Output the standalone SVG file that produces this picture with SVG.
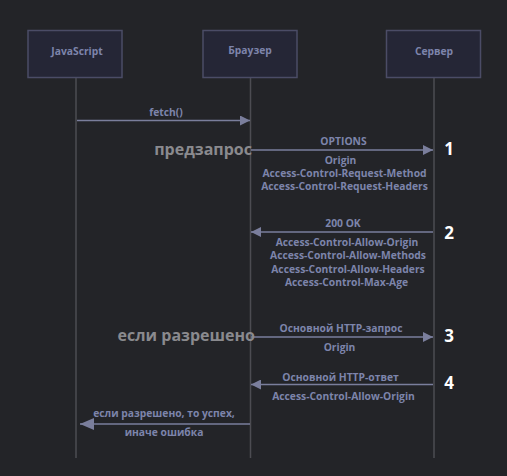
<svg xmlns="http://www.w3.org/2000/svg" width="507" height="476" viewBox="0 0 507 476">
<defs>
<style>
.bg{fill:#232428}
.box{fill:#252636;stroke:#4b4c66;stroke-width:1.5}
.life{stroke:#4c4c52;stroke-width:1.5}
.msg{stroke:#7a7e9c;stroke-width:1.5;fill:none}
.t{font-family:"Open Sans","Liberation Sans",sans-serif;font-weight:700;font-size:10.3px;fill:#7d84ab;text-anchor:middle}
.big{font-family:"Open Sans","Liberation Sans",sans-serif;font-weight:700;font-size:16px;fill:#8a8a8e;text-anchor:end}
.num{font-family:"Open Sans","Liberation Sans",sans-serif;font-weight:700;font-size:17px;fill:#ffffff;text-anchor:middle}
</style>
<marker id="ah" viewBox="0 0 10 10" refX="10" refY="5" markerWidth="10" markerHeight="10" markerUnits="userSpaceOnUse" orient="auto">
<path d="M0,0 L10,5 L0,10 z" fill="#7a7e9c"/>
</marker>
<marker id="ahb" viewBox="0 0 14 12" refX="14" refY="6" markerWidth="14" markerHeight="12" markerUnits="userSpaceOnUse" orient="auto">
<path d="M0,0 L14,6 L0,12 z" fill="#7a7e9c"/>
</marker>
</defs>
<rect class="bg" x="0" y="0" width="507" height="476"/>
<g id="lifelines">
<line class="life" x1="76" y1="78" x2="76" y2="458"/>
<line class="life" x1="250.5" y1="78" x2="250.5" y2="458"/>
<line class="life" x1="434" y1="78" x2="434" y2="458"/>
</g>
<g id="node-js">
<rect class="box" x="28" y="30.5" width="94" height="47"/>
<text class="t" x="77" y="55">JavaScript</text>
</g>
<g id="node-browser">
<rect class="box" x="203" y="30.5" width="94" height="47"/>
<text class="t" x="250" y="54">Браузер</text>
</g>
<g id="node-server">
<rect class="box" x="386.5" y="30.5" width="94" height="47"/>
<text class="t" x="434" y="55">Сервер</text>
</g>
<g id="connectors">
<line class="msg" x1="77" y1="120.5" x2="250" y2="120.5" marker-end="url(#ah)"/>
<line class="msg" x1="251" y1="150" x2="433" y2="150" marker-end="url(#ah)"/>
<line class="msg" x1="433" y1="232" x2="251" y2="232" marker-end="url(#ah)"/>
<line class="msg" x1="251" y1="337" x2="433" y2="337" marker-end="url(#ah)"/>
<line class="msg" x1="433" y1="384.5" x2="251" y2="384.5" marker-end="url(#ah)"/>
<line class="msg" x1="250" y1="424" x2="80" y2="424" marker-end="url(#ahb)"/>
</g>
<g id="labels">
<text class="t" x="166" y="116">fetch()</text>
<text class="t" x="343.5" y="145">OPTIONS</text>
<text class="t" x="340.5" y="164">Origin</text>
<text class="t" x="344.5" y="177">Access-Control-Request-Method</text>
<text class="t" x="344.5" y="190">Access-Control-Request-Headers</text>
<text class="t" x="343" y="227">200 OK</text>
<text class="t" x="347" y="246">Access-Control-Allow-Origin</text>
<text class="t" x="348" y="259">Access-Control-Allow-Methods</text>
<text class="t" x="348" y="273">Access-Control-Allow-Headers</text>
<text class="t" x="346.5" y="286">Access-Control-Max-Age</text>
<text class="t" x="341" y="332">Основной HTTP-запрос</text>
<text class="t" x="339.5" y="351">Origin</text>
<text class="t" x="340.5" y="381">Основной HTTP-ответ</text>
<text class="t" x="343.5" y="400">Access-Control-Allow-Origin</text>
<text class="t" x="164" y="417">если разрешено, то успех,</text>
<text class="t" x="164" y="436">иначе ошибка</text>
<text class="big" x="252" y="155">предзапрос</text>
<text class="big" x="255" y="341">если разрешено</text>
<text class="num" x="449" y="155">1</text>
<text class="num" x="449" y="239">2</text>
<text class="num" x="449" y="342">3</text>
<text class="num" x="449" y="389">4</text>
</g>
</svg>
